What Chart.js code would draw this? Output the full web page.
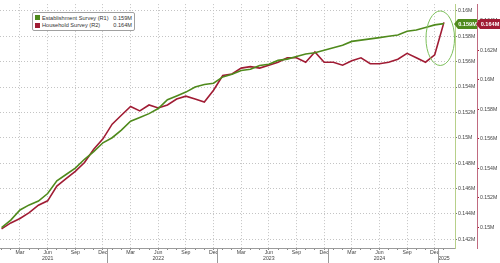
<!DOCTYPE html>
<html>
<head>
<meta charset="utf-8">
<script src="https://cdn.jsdelivr.net/npm/chart.js@4/dist/chart.umd.min.js"></script>
<style>
  html, body { margin: 0; padding: 0; background: #fff; }
  #wrap { position: relative; width: 500px; height: 263px; }
  #legend {
    position: absolute; left: 32px; top: 12px; width: 99px; height: 16px;
    border: 1px solid #a0a0a0; border-radius: 2px; background: #fff;
    font-family: 'Liberation Sans', Arial, sans-serif; font-size: 5.6px; color: #333;
    padding: 1px 0 0 2px; box-sizing: content-box;
  }
  .row { display: flex; align-items: center; height: 7.5px; }
  .sw { width: 5px; height: 5px; margin-right: 2px; }
  .lab { flex: 1; white-space: nowrap; }
  .val { width: 22px; text-align: right; padding-right: 2px; }
</style>
</head>
<body>
<div id="wrap">
  <canvas id="c" width="500" height="263"></canvas>
  <div id="legend"></div>
</div>
<script>
// ---- data ----
const months = [
  'Jan 2021','Feb 2021','Mar 2021','Apr 2021','May 2021','Jun 2021','Jul 2021','Aug 2021','Sep 2021','Oct 2021','Nov 2021','Dec 2021',
  'Jan 2022','Feb 2022','Mar 2022','Apr 2022','May 2022','Jun 2022','Jul 2022','Aug 2022','Sep 2022','Oct 2022','Nov 2022','Dec 2022',
  'Jan 2023','Feb 2023','Mar 2023','Apr 2023','May 2023','Jun 2023','Jul 2023','Aug 2023','Sep 2023','Oct 2023','Nov 2023','Dec 2023',
  'Jan 2024','Feb 2024','Mar 2024','Apr 2024','May 2024','Jun 2024','Jul 2024','Aug 2024','Sep 2024','Oct 2024','Nov 2024','Dec 2024',
  'Jan 2025'
];
const establishmentSurvey = [
  0.1429,0.1435,0.1443,0.1447,0.1450,0.1456,0.1466,0.1471,0.1476,0.1483,0.1489,0.1496,
  0.1500,0.1506,0.1513,0.1516,0.1519,0.1523,0.1530,0.1533,0.1536,0.1540,0.1542,0.1543,
  0.1548,0.1550,0.1553,0.1554,0.1557,0.1558,0.1561,0.1562,0.1564,0.1566,0.1567,0.1569,
  0.1571,0.1573,0.1576,0.1577,0.1578,0.1579,0.1580,0.1581,0.1584,0.1585,0.1587,0.1589,
  0.1590
];
const householdSurvey = [
  0.1499,0.1503,0.1506,0.1510,0.1515,0.1518,0.1528,0.1533,0.1538,0.1544,0.1553,0.1560,
  0.1570,0.1576,0.1582,0.1579,0.1583,0.1581,0.1583,0.1587,0.1589,0.1587,0.1585,0.1593,
  0.1603,0.1604,0.1608,0.1609,0.1608,0.1610,0.1612,0.1615,0.1615,0.1612,0.1619,0.1612,
  0.1612,0.1610,0.1613,0.1615,0.1611,0.1611,0.1612,0.1614,0.1618,0.1615,0.1612,0.1617,
  0.1639
];
const r1Ticks = [0.142,0.144,0.146,0.148,0.15,0.152,0.154,0.156,0.158,0.16];
const r2Ticks = [0.15,0.152,0.154,0.156,0.158,0.16,0.162,0.164];
const quarterMonths = ['Mar','Jun','Sep','Dec'];
const seriesNames = ['Establishment Survey (R1)','Household Survey (R2)'];

const GREEN = '#4f8a1c';
const RED = '#a01c34';
const FONT = "'Liberation Sans', Arial, sans-serif";

// legend (HTML text)
const legendEl = document.getElementById('legend');
[[seriesNames[0], GREEN, establishmentSurvey], [seriesNames[1], RED, householdSurvey]].forEach(([n, c, arr]) => {
  const row = document.createElement('div'); row.className = 'row';
  row.innerHTML = '<div class="sw" style="background:' + c + '"></div><div class="lab">' + n +
    '</div><div class="val">' + arr[arr.length - 1].toFixed(3) + 'M</div>';
  legendEl.appendChild(row);
});

function fmtM(v) { return parseFloat(v.toFixed(3)).toString() + 'M'; }

const endBoxes = {
  id: 'endBoxes',
  afterDatasetsDraw(chart) {
    const ctx = chart.ctx;
    const xs = chart.scales.x;
    const r1 = chart.scales.r1;
    const last = months.length - 1;
    const cx = xs.getPixelForValue(last - 0.4);
    const top = r1.getPixelForValue(0.1600);
    const bot = r1.getPixelForValue(0.1557);
    const rx = xs.getPixelForValue(last + 1.15) - xs.getPixelForValue(last - 0.4);
    ctx.save();
    ctx.strokeStyle = '#7cbf5a';
    ctx.lineWidth = 1;
    ctx.beginPath();
    ctx.ellipse(cx, (top + bot) / 2, rx, (bot - top) / 2, 0, 0, Math.PI * 2);
    ctx.stroke();
    ctx.restore();
  },
  afterDraw(chart) {
    const ctx = chart.ctx;
    const xs = chart.scales.x;
    // year separators in the label band
    ctx.save();
    ctx.strokeStyle = '#9a9a9a';
    ctx.lineWidth = 1;
    months.forEach((m, i) => {
      if (m.startsWith('Dec')) {
        const x = Math.round(xs.getPixelForValue(i + 0.4)) + 0.5;
        ctx.beginPath();
        ctx.moveTo(x, xs.top);
        ctx.lineTo(x, xs.bottom);
        ctx.stroke();
      }
    });
    ctx.restore();

    const list = [
      { scale: chart.scales.r1, data: establishmentSurvey, color: GREEN },
      { scale: chart.scales.r2, data: householdSurvey, color: RED }
    ];
    ctx.save();
    const yc = Math.round(chart.scales.r1.getPixelForValue(establishmentSurvey[establishmentSurvey.length - 1]));
    list.forEach(o => {
      const v = o.data[o.data.length - 1];
      const l = o.scale.left + 1, r = o.scale.right;
      ctx.fillStyle = o.color;
      ctx.beginPath();
      ctx.moveTo(l - 2, yc);
      ctx.lineTo(l + 2, yc - 5);
      ctx.lineTo(r, yc - 5);
      ctx.lineTo(r, yc + 5);
      ctx.lineTo(l + 2, yc + 5);
      ctx.closePath();
      ctx.fill();
      ctx.fillStyle = '#fff';
      ctx.font = 'bold 5.6px ' + FONT;
      ctx.textAlign = 'center';
      ctx.textBaseline = 'middle';
      ctx.fillText(v.toFixed(3) + 'M', (l + r) / 2 + 1, yc + 0.5);
    });
    ctx.restore();
  }
};

new Chart(document.getElementById('c'), {
  type: 'line',
  data: {
    datasets: [
      {
        label: seriesNames[0],
        data: establishmentSurvey.map((v, i) => ({ x: i, y: v })),
        borderColor: GREEN, borderWidth: 1.6, pointRadius: 0, tension: 0, yAxisID: 'r1'
      },
      {
        label: seriesNames[1],
        data: householdSurvey.map((v, i) => ({ x: i, y: v })),
        borderColor: RED, borderWidth: 1.6, pointRadius: 0, tension: 0, yAxisID: 'r2'
      }
    ]
  },
  options: {
    responsive: false, animation: false, devicePixelRatio: 1,
    layout: { padding: 0 },
    plugins: { legend: { display: false }, tooltip: { enabled: false } },
    scales: {
      x: {
        type: 'linear', min: -0.17, max: 49.2,
        afterBuildTicks: s => { s.ticks = months.map((m, i) => ({ value: i })); },
        afterFit: s => { s.height = 15; },
        ticks: {
          autoSkip: false, maxRotation: 0, minRotation: 0, padding: 0,
          color: '#444', font: { family: FONT, size: 5.2, lineHeight: 1.1 },
          callback: (v) => {
            const m = months[v]; if (!m) return '';
            const [mon, yr] = m.split(' ');
            if (v === months.length - 1) return ['', yr];
            if (mon === 'Jun') return [mon, yr];
            return quarterMonths.includes(mon) ? mon : '';
          }
        },
        grid: {
          color: c => { const m = months[c.tick && c.tick.value]; return m && quarterMonths.includes(m.split(' ')[0]) ? '#c4c4c4' : 'rgba(0,0,0,0)'; },
          tickColor: '#8a8a8a', tickLength: 2, tickBorderDash: [], lineWidth: 1
        },
        border: { display: true, color: '#9a9a9a', dash: [1, 2] }
      },
      r1: {
        type: 'linear', position: 'right', weight: 1,
        min: 0.14130, max: 0.16054,
        afterBuildTicks: s => { s.ticks = r1Ticks.map(v => ({ value: v })); },
        afterFit: s => { s.width = 22; },
        ticks: { color: '#444', padding: 1, font: { family: FONT, size: 5.2 }, callback: v => fmtM(v) },
        grid: { color: '#c4c4c4', tickColor: '#777', tickLength: 2, tickBorderDash: [] },
        border: { display: true, color: '#b7d08a', dash: [1, 2] }
      },
      r2: {
        type: 'linear', position: 'right', weight: 2,
        min: 0.14860, max: 0.16514,
        afterBuildTicks: s => { s.ticks = r2Ticks.map(v => ({ value: v })); },
        afterFit: s => { s.width = 23; },
        ticks: { color: '#444', padding: 1, font: { family: FONT, size: 5.2 }, callback: v => fmtM(v) },
        grid: { drawOnChartArea: false, tickColor: '#a01c34', tickLength: 2 },
        border: { display: true, color: '#c06a80' }
      }
    }
  },
  plugins: [endBoxes]
});
</script>
</body>
</html>
